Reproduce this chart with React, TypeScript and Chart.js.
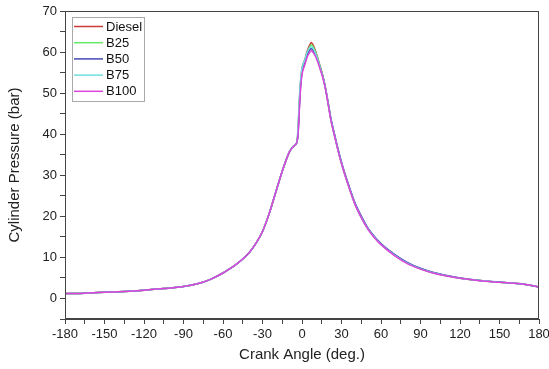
import React, { useEffect, useRef } from "react";
import { Chart, registerables } from "chart.js";

Chart.register(...registerables);

const angles = [-180, -165, -150, -135, -120, -105, -90, -80, -70, -60, -55, -50, -45, -40, -35, -30, -25, -20, -15, -10, -8, -6, -4, -3, -2, -1, 0, 2, 4, 6, 7, 8, 10, 12, 14, 16, 18, 20, 22, 25, 28, 31, 35, 40, 45, 50, 55, 60, 70, 80, 90, 100, 110, 120, 135, 150, 165, 172, 180];

const diesel = [1.2, 1.3, 1.5, 1.7, 2.0, 2.4, 2.9, 3.5, 4.6, 6.2, 7.2, 8.3, 9.6, 11.2, 13.4, 16.3, 20.6, 25.8, 31.0, 35.4, 36.5, 37.2, 37.9, 41, 48, 53, 56, 58, 60.3, 61.8, 62.3, 62.0, 60.5, 58.5, 56.3, 54.0, 50.9, 47.2, 43.5, 39.3, 35.3, 31.8, 27.8, 23.2, 19.8, 17.0, 14.9, 13.2, 10.6, 8.6, 7.2, 6.2, 5.5, 4.95, 4.35, 3.95, 3.6, 3.3, 2.8];
const b25 = [1.2, 1.3, 1.5, 1.7, 2.0, 2.4, 2.9, 3.5, 4.6, 6.2, 7.2, 8.3, 9.6, 11.2, 13.4, 16.3, 20.6, 25.8, 31.0, 35.4, 36.5, 37.2, 37.9, 40.5, 47.5, 52.5, 55.5, 57.6, 59.9, 61.3, 61.8, 61.5, 60.2, 58.3, 56.2, 53.9, 50.9, 47.2, 43.5, 39.3, 35.3, 31.8, 27.8, 23.2, 19.8, 17.0, 14.9, 13.2, 10.6, 8.6, 7.2, 6.2, 5.5, 4.95, 4.35, 3.95, 3.6, 3.3, 2.8];
const b50 = [1.2, 1.3, 1.5, 1.7, 2.0, 2.4, 2.9, 3.5, 4.6, 6.2, 7.2, 8.3, 9.6, 11.2, 13.4, 16.3, 20.6, 25.8, 31.0, 35.4, 36.5, 37.2, 37.9, 40, 46.5, 52, 55, 57.2, 59.4, 60.6, 60.8, 60.6, 59.6, 57.9, 55.9, 53.8, 51.0, 47.4, 43.8, 39.6, 35.6, 32.1, 28.1, 23.5, 20.1, 17.2, 15.1, 13.4, 10.8, 8.8, 7.35, 6.3, 5.6, 5.0, 4.4, 3.98, 3.62, 3.3, 2.8];
const b75 = [1.2, 1.3, 1.5, 1.7, 2.0, 2.4, 2.9, 3.5, 4.6, 6.2, 7.2, 8.3, 9.6, 11.2, 13.4, 16.3, 20.6, 25.8, 31.0, 35.4, 36.5, 37.2, 37.9, 42, 49, 53.5, 56, 58, 60, 61.1, 61.3, 61.1, 59.9, 58.1, 56.0, 53.8, 50.9, 47.2, 43.5, 39.3, 35.3, 31.8, 27.8, 23.2, 19.8, 17.0, 14.9, 13.2, 10.6, 8.6, 7.2, 6.2, 5.5, 4.95, 4.35, 3.95, 3.6, 3.3, 2.8];
const b100 = [1.2, 1.3, 1.5, 1.7, 2.0, 2.4, 2.9, 3.5, 4.6, 6.2, 7.2, 8.3, 9.6, 11.2, 13.4, 16.3, 20.6, 25.8, 31.0, 35.4, 36.5, 37.2, 37.9, 40, 46, 51.5, 54.5, 56.8, 58.8, 60.0, 60.3, 60.1, 59.1, 57.5, 55.6, 53.5, 50.7, 47.0, 43.3, 39.2, 35.2, 31.7, 27.7, 23.1, 19.7, 16.9, 14.8, 13.1, 10.5, 8.5, 7.15, 6.15, 5.45, 4.9, 4.3, 3.93, 3.58, 3.28, 2.78];

const seriesNames = ["Diesel", "B25", "B50", "B75", "B100"];
const seriesValues = [diesel, b25, b50, b75, b100];
const seriesColors = ["#cc3a3a", "#66e866", "#4646b4", "#6ee0e0", "#dd44dd"];

const xTickLabels = [-180, -150, -120, -90, -60, -30, 0, 30, 60, 90, 120, 150, 180];
const yTickLabels = [0, 10, 20, 30, 40, 50, 60, 70];

const FONT = "'Liberation Sans', Arial, sans-serif";
const AXIS = "#444";

const framePlugin = {
  id: "frame",
  afterDraw(chart: any) {
    const { ctx, chartArea } = chart;
    ctx.save();
    ctx.strokeStyle = AXIS;
    ctx.lineWidth = 1;
    ctx.strokeRect(chartArea.left + 0.5, chartArea.top + 0.5, chartArea.right - chartArea.left - 1, chartArea.bottom - chartArea.top - 1);
    const bx = 72, by = 17, bw = 72, bh = 84;
    ctx.fillStyle = "#fff";
    ctx.fillRect(bx, by, bw, bh);
    ctx.strokeStyle = "#aaa";
    ctx.strokeRect(bx + 0.5, by + 0.5, bw, bh);
    ctx.font = "13px " + FONT;
    ctx.textBaseline = "middle";
    chart.data.datasets.forEach((ds: any, i: number) => {
      const y = 26.5 + i * 16.2;
      ctx.strokeStyle = ds.borderColor;
      ctx.lineWidth = 1.5;
      ctx.beginPath();
      ctx.moveTo(74, y);
      ctx.lineTo(103, y);
      ctx.stroke();
      ctx.fillStyle = "#111";
      ctx.fillText(ds.label, 106, y + 0.5);
    });
    ctx.restore();
  },
};

export default function App() {
  const ref = useRef<HTMLCanvasElement>(null);
  useEffect(() => {
    const chart = new Chart(ref.current!, {
      type: "line",
      data: {
        datasets: seriesNames.map((name, i) => ({
          label: name,
          data: angles.map((a, j) => ({ x: a, y: seriesValues[i][j] })),
          borderColor: seriesColors[i],
          backgroundColor: seriesColors[i],
          borderWidth: 1.5,
          pointRadius: 0,
          cubicInterpolationMode: "monotone" as const,
          order: seriesNames.length - i,
        })),
      },
      options: {
        animation: false,
        responsive: false,
        maintainAspectRatio: false,
        layout: { padding: { top: 11, right: 10, left: 0, bottom: 0 } },
        plugins: { legend: { display: false }, tooltip: { enabled: false } },
        scales: {
          x: {
            type: "linear",
            min: -180,
            max: 180,
            afterBuildTicks: (s: any) => {
              const t = [];
              for (let v = -180; v <= 180; v += 15) t.push({ value: v });
              s.ticks = t;
            },
            afterFit: (s: any) => { s.height = 50; s.paddingLeft = 0; s.paddingRight = 0; },
            ticks: {
              autoSkip: false,
              maxRotation: 0,
              padding: 3,
              color: "#222",
              font: { family: FONT, size: 13 },
              callback: (v: any) => (xTickLabels.includes(v) ? String(v) : ""),
            },
            grid: { drawOnChartArea: false, tickLength: 5, color: AXIS },
            border: { display: true, color: AXIS, width: 1 },
            title: { display: true, text: "Crank Angle (deg.)", color: "#222", font: { family: FONT, size: 15 }, padding: { top: 0, bottom: 5 } },
          },
          y: {
            type: "linear",
            min: -5,
            max: 70,
            afterBuildTicks: (s: any) => {
              const t = [];
              for (let v = -5; v <= 70; v += 5) t.push({ value: v });
              s.ticks = t;
            },
            afterFit: (s: any) => { s.width = 65; s.paddingTop = 0; s.paddingBottom = 0; },
            ticks: {
              autoSkip: false,
              padding: 3,
              color: "#222",
              font: { family: FONT, size: 13 },
              callback: (v: any) => (yTickLabels.includes(v) ? String(v) : ""),
            },
            grid: { drawOnChartArea: false, tickLength: 5, color: AXIS },
            border: { display: true, color: AXIS, width: 1 },
            title: { display: true, text: "Cylinder Pressure (bar)", color: "#222", font: { family: FONT, size: 15 }, padding: { top: 6, bottom: 0 } },
          },
        },
      },
      plugins: [framePlugin],
    });
    return () => chart.destroy();
  }, []);
  return (
    <div style={{ position: "fixed", left: 0, top: 0, width: 549, height: 369, background: "#fff" }}>
      <canvas ref={ref} width={549} height={369} style={{ width: 549, height: 369 }} />
    </div>
  );
}
